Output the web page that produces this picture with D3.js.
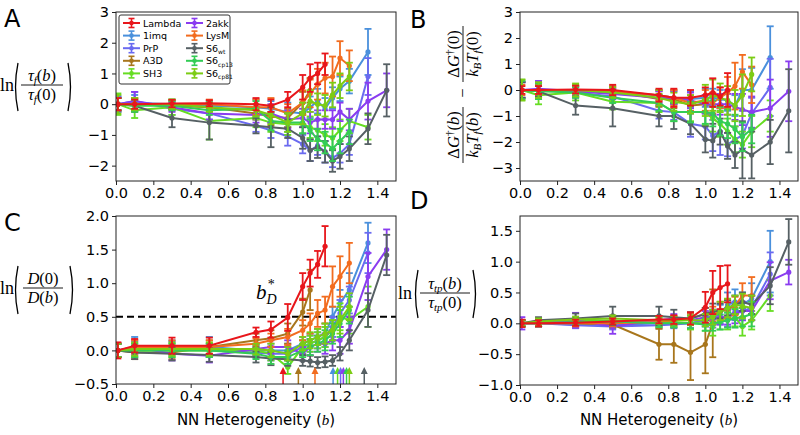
<!DOCTYPE html>
<html>
<head>
<meta charset="utf-8">
<script src="https://cdn.jsdelivr.net/npm/d3@7"></script>
<style>
  body { margin: 0; background: #fff; }
  svg { display: block; }
  text { font-family: "DejaVu Sans", sans-serif; fill: #000; }
  .math { font-family: "Liberation Serif", "DejaVu Serif", serif; }
</style>
</head>
<body>
<div id="chart"></div>
<script>
// shared heterogeneity grid, every protein uses a prefix of it
const bValues = [0.01, 0.1, 0.3, 0.5, 0.75, 0.83, 0.92, 1.0, 1.04, 1.08, 1.12, 1.16, 1.2, 1.25, 1.35, 1.45];
const xTicks = [0.0, 0.2, 0.4, 0.6, 0.8, 1.0, 1.2, 1.4];

const proteins = ['Lambda', '1imq', 'PrP', 'A3D', 'SH3', '2akk', 'LysM', 'S6wt', 'S6cp13', 'S6cp81'];
const colors = {
    Lambda: '#e8161b', '1imq': '#4a90dc', PrP: '#6a6af0', A3D: '#a8761c', SH3: '#66dd22',
    '2akk': '#8a3cf0', LysM: '#f26c1f', S6wt: '#566064', S6cp13: '#33cc55', S6cp81: '#7ccc14'
};

// Panel A: ln(tau_f(b)/tau_f(0))
const tauF = {
    Lambda: [0, 0.0, 0.02, 0.03, 0.0, -0.05, 0.15, 0.55, 0.85, 1.0, 1.3],
    '1imq': [0, 0.05, 0.0, -0.05, -0.1, -0.15, -0.25, -0.3, -0.1, 0.1, -0.15, 0.2, 0.5, 0.75, 1.7],
    PrP: [0, 0.1, -0.15, -0.3, -0.7, -0.85, -1.05, -1.3, -1.5, -1.35, -1.55, -1.75, -1.6, -1.3, 0.9],
    A3D: [0, 0.0, -0.05, -0.1, -0.3, -0.4, -0.45, 0.05, 0.45],
    SH3: [0, -0.2, -0.1, -0.55, -0.45, -0.6, -0.65, -0.65, -0.75, -0.85, -1.0, -1.1, -0.85, -0.55, -0.75],
    '2akk': [0, 0.1, -0.1, -0.3, -0.35, -0.3, -0.5, -0.45, -0.6, -0.5, -0.5, -0.5, -0.25, -0.5, 0.1, 0.45],
    LysM: [0, 0.0, 0.0, 0.0, -0.1, -0.1, -0.3, 0.05, 0.35, 0.65, 0.85, 0.9, 1.5, 1.25],
    S6wt: [0, -0.05, -0.45, -0.6, -0.7, -0.75, -0.8, -1.1, -1.5, -1.4, -1.55, -1.85, -1.7, -1.45, -0.8, 0.45],
    S6cp13: [0, -0.05, -0.05, -0.2, -0.15, -0.55, -0.6, -0.6, -0.85, -1.15, -1.25, -1.45, -1.2, -0.9],
    S6cp81: [0, 0.0, 0.0, -0.1, -0.2, -0.35, -0.6, -0.3, 0.1, 0.0, -0.05, 0.3, 0.6, 0.9]
};
const tauFErr = {
    Lambda: [0.2, 0.15, 0.12, 0.1, 0.2, 0.2, 0.25, 0.4, 0.45, 0.35, 0.35],
    '1imq': [0.25, 0.25, 0.15, 0.15, 0.25, 0.25, 0.3, 0.35, 0.35, 0.4, 0.35, 0.35, 0.4, 0.4, 0.75],
    PrP: [0.25, 0.3, 0.2, 0.2, 0.2, 0.25, 0.3, 0.3, 0.35, 0.3, 0.35, 0.3, 0.3, 0.35, 0.6],
    A3D: [0.2, 0.2, 0.15, 0.15, 0.2, 0.3, 0.3, 0.35, 0.4],
    SH3: [0.35, 0.25, 0.25, 0.6, 0.3, 0.3, 0.35, 0.3, 0.35, 0.35, 0.35, 0.35, 0.35, 0.4, 0.4],
    '2akk': [0.2, 0.3, 0.15, 0.2, 0.25, 0.3, 0.3, 0.3, 0.35, 0.3, 0.3, 0.3, 0.3, 0.35, 0.6, 0.55],
    LysM: [0.2, 0.2, 0.15, 0.15, 0.25, 0.3, 0.3, 0.4, 0.45, 0.5, 0.5, 0.65, 0.55, 0.5],
    S6wt: [0.2, 0.2, 0.3, 0.55, 0.25, 0.65, 0.3, 0.35, 0.35, 0.35, 0.35, 0.35, 0.4, 0.4, 0.5, 0.85],
    S6cp13: [0.2, 0.2, 0.15, 0.15, 0.25, 0.3, 0.3, 0.35, 0.35, 0.35, 0.35, 0.4, 0.4, 0.4],
    S6cp81: [0.3, 0.2, 0.15, 0.15, 0.2, 0.3, 0.3, 0.35, 0.35, 0.35, 0.35, 0.4, 0.4, 0.45]
};

// Panel B: barrier difference
const dG = {
    Lambda: [0, 0.0, 0.02, 0.0, -0.2, -0.3, -0.3, -0.2, -0.1, -0.25, 0.0],
    '1imq': [0, 0.0, -0.05, -0.1, -0.2, -0.3, -0.35, -0.3, -0.3, -0.35, -0.4, -0.6, 0.0, 0.0, 1.25],
    PrP: [0, 0.0, -0.1, -0.25, -0.8, -0.85, -1.3, -1.4, -1.75, -1.6, -2.1, -1.9, -1.75, -0.9, 0.1],
    A3D: [0, 0.0, -0.05, -0.05, -0.35, -0.35, -0.6, -0.55, -0.6],
    SH3: [0, -0.2, -0.1, -0.45, -0.5, -0.85, -0.85, -0.85, -1.1, -1.3, -1.6, -1.9, -2.1, -1.6, -1.0],
    '2akk': [0, 0.05, -0.05, -0.15, -0.3, -0.3, -0.4, -0.55, -0.55, -0.55, -0.55, -0.65, -0.75, -0.85, -0.7, -0.05],
    LysM: [0, 0.0, 0.0, -0.05, -0.2, -0.3, -0.5, -0.4, -0.5, -0.3, -0.1, 0.15, 0.7, 0.2],
    S6wt: [0, -0.05, -0.6, -0.7, -1.0, -1.0, -1.3, -1.9, -1.95, -1.6, -2.15, -2.5, -2.3, -2.5, -2.0, -0.8],
    S6cp13: [0, -0.05, -0.1, -0.3, -0.5, -0.85, -0.85, -0.85, -0.9, -1.2, -1.3, -1.5, -1.8, -1.5],
    S6cp81: [0, 0.0, 0.0, -0.1, -0.3, -0.45, -0.55, -0.4, -0.2, -0.3, -0.4, -0.6, -0.2, 0.6]
};
const dGErr = {
    Lambda: [0.15, 0.15, 0.15, 0.2, 0.25, 0.35, 0.3, 0.3, 0.55, 0.35, 0.65],
    '1imq': [0.3, 0.3, 0.15, 0.15, 0.2, 0.25, 0.3, 0.35, 0.35, 0.35, 0.4, 0.4, 0.8, 0.85, 1.2],
    PrP: [0.3, 0.35, 0.2, 0.2, 0.3, 0.3, 0.5, 0.5, 0.6, 0.9, 0.45, 0.5, 0.5, 0.6, 1.1],
    A3D: [0.3, 0.3, 0.2, 0.2, 0.3, 0.35, 0.3, 0.35, 0.4],
    SH3: [0.4, 0.35, 0.3, 0.3, 0.35, 0.35, 0.35, 0.5, 0.5, 0.5, 0.5, 0.5, 0.5, 0.6, 0.6],
    '2akk': [0.3, 0.3, 0.2, 0.2, 0.25, 0.25, 0.3, 0.35, 0.4, 0.4, 0.4, 0.5, 0.6, 0.6, 1.1, 1.15],
    LysM: [0.2, 0.2, 0.15, 0.15, 0.2, 0.3, 0.3, 0.4, 0.4, 0.4, 0.6, 0.9, 0.65, 0.7],
    S6wt: [0.3, 0.2, 0.35, 0.7, 0.4, 0.5, 0.4, 0.5, 0.65, 0.5, 0.5, 0.5, 1.1, 0.9, 0.85, 1.6],
    S6cp13: [0.35, 0.3, 0.2, 0.2, 0.3, 0.35, 0.4, 0.45, 0.5, 0.55, 0.55, 0.55, 0.55, 0.55],
    S6cp81: [0.4, 0.3, 0.25, 0.2, 0.3, 0.35, 0.35, 0.6, 0.6, 0.55, 0.55, 0.6, 0.8, 0.65]
};

// Panel C: ln(D(0)/D(b))
const diffus = {
    Lambda: [0, 0.07, 0.07, 0.07, 0.27, 0.31, 0.49, 0.95, 1.15, 1.28, 1.55],
    '1imq': [0, 0.05, 0.05, 0.05, 0.0, 0.0, 0.0, 0.1, 0.15, 0.2, 0.25, 0.5, 0.7, 0.9, 1.6],
    PrP: [0, 0.03, 0.03, 0.0, -0.03, -0.05, -0.05, 0.05, 0.1, 0.15, 0.2, 0.35, 0.55, 0.75, 1.45],
    A3D: [0, -0.03, -0.03, 0.05, 0.15, 0.18, 0.25, 0.57, 0.9],
    SH3: [0, 0.0, 0.0, 0.0, 0.0, -0.05, -0.25, 0.05, 0.1, 0.15, 0.2, 0.3, 0.5, 0.45, 0.65],
    '2akk': [0, 0.05, -0.05, -0.08, 0.02, 0.05, 0.05, -0.05, 0.05, 0.1, 0.1, 0.15, 0.15, 0.3, 1.1, 1.5],
    LysM: [0, 0.05, 0.05, 0.05, 0.1, 0.15, 0.2, 0.3, 0.4, 0.55, 0.6, 0.95, 1.1, 1.3],
    S6wt: [0, -0.03, -0.05, -0.07, -0.1, -0.12, -0.13, -0.15, -0.16, -0.18, -0.17, -0.15, -0.05, 0.15, 0.6, 1.42],
    S6cp13: [0, 0.0, 0.0, 0.0, -0.05, -0.1, -0.1, 0.0, 0.05, 0.1, 0.15, 0.25, 0.4, 0.6],
    S6cp81: [0, 0.02, 0.02, 0.02, 0.02, 0.0, -0.05, 0.1, 0.15, 0.2, 0.25, 0.3, 0.45, 0.65]
};
const diffusErr = {
    Lambda: [0.12, 0.1, 0.12, 0.12, 0.07, 0.12, 0.2, 0.2, 0.2, 0.2, 0.3],
    '1imq': [0.1, 0.15, 0.1, 0.15, 0.08, 0.1, 0.1, 0.1, 0.1, 0.12, 0.15, 0.15, 0.2, 0.25, 0.3],
    PrP: [0.1, 0.1, 0.1, 0.1, 0.08, 0.1, 0.1, 0.1, 0.12, 0.12, 0.15, 0.15, 0.2, 0.2, 0.3],
    A3D: [0.1, 0.1, 0.1, 0.1, 0.1, 0.12, 0.15, 0.2, 0.3],
    SH3: [0.1, 0.1, 0.1, 0.1, 0.08, 0.1, 0.1, 0.1, 0.12, 0.12, 0.15, 0.15, 0.2, 0.2, 0.3],
    '2akk': [0.1, 0.1, 0.1, 0.1, 0.08, 0.1, 0.1, 0.1, 0.12, 0.12, 0.15, 0.15, 0.2, 0.2, 0.35, 0.3],
    LysM: [0.1, 0.1, 0.1, 0.1, 0.08, 0.1, 0.12, 0.15, 0.15, 0.2, 0.2, 0.3, 0.3, 0.3],
    S6wt: [0.1, 0.1, 0.1, 0.1, 0.08, 0.1, 0.1, 0.08, 0.08, 0.08, 0.08, 0.08, 0.1, 0.15, 0.25, 0.3],
    S6cp13: [0.1, 0.1, 0.1, 0.1, 0.08, 0.1, 0.1, 0.1, 0.12, 0.12, 0.15, 0.15, 0.2, 0.2],
    S6cp81: [0.1, 0.1, 0.1, 0.1, 0.08, 0.1, 0.1, 0.1, 0.12, 0.12, 0.15, 0.15, 0.2, 0.2]
};
// b_D* markers (crossing of the 0.5 line)
const bDstar = [
    ['Lambda', 0.895], ['A3D', 0.977], ['LysM', 1.066], ['1imq', 1.163], ['SH3', 1.187],
    ['PrP', 1.203], ['2akk', 1.218], ['S6cp13', 1.235], ['S6cp81', 1.25], ['S6wt', 1.33]
];

// Panel D: ln(tau_tp(b)/tau_tp(0))
const tauTP = {
    Lambda: [0, 0.0, 0.01, 0.03, 0.06, 0.06, 0.08, 0.26, 0.5, 0.58, 0.64],
    '1imq': [0, 0.0, -0.02, -0.03, 0.0, 0.0, 0.0, 0.05, 0.1, 0.15, 0.3, 0.35, 0.3, 0.4, 1.0],
    PrP: [0, 0.0, -0.03, -0.05, -0.03, -0.02, 0.0, 0.05, 0.05, 0.1, 0.1, 0.2, 0.2, 0.25, 0.8],
    A3D: [0, 0.0, 0.0, -0.02, -0.34, -0.34, -0.47, -0.34, 0.0],
    SH3: [0, 0.02, 0.04, 0.04, 0.02, 0.02, 0.0, 0.0, -0.05, 0.05, 0.05, 0.1, -0.05, 0.05, 0.45],
    '2akk': [0, 0.0, 0.05, -0.05, 0.05, 0.08, 0.05, 0.1, 0.1, 0.1, 0.1, 0.15, 0.2, 0.2, 0.69, 0.83],
    LysM: [0, 0.0, 0.0, 0.0, 0.02, 0.05, 0.08, 0.15, 0.15, 0.2, 0.23, 0.28, 0.45, 0.45],
    S6wt: [0, 0.05, 0.08, 0.12, 0.12, 0.1, 0.08, 0.15, 0.2, 0.2, 0.25, 0.3, 0.35, 0.3, 0.61, 1.32],
    S6cp13: [0, 0.0, 0.02, 0.03, 0.0, 0.0, 0.0, -0.02, 0.0, 0.02, 0.05, 0.08, 0.1, 0.15],
    S6cp81: [0, 0.03, 0.06, 0.08, 0.05, 0.05, 0.05, 0.05, 0.1, 0.2, 0.25, 0.3, 0.28, 0.25]
};
const tauTPErr = {
    Lambda: [0.06, 0.05, 0.05, 0.05, 0.06, 0.07, 0.1, 0.25, 0.35, 0.35, 0.3],
    '1imq': [0.05, 0.05, 0.05, 0.05, 0.05, 0.06, 0.08, 0.1, 0.12, 0.15, 0.2, 0.2, 0.2, 0.25, 0.5],
    PrP: [0.05, 0.05, 0.05, 0.05, 0.05, 0.06, 0.08, 0.1, 0.12, 0.12, 0.15, 0.15, 0.15, 0.2, 0.35],
    A3D: [0.05, 0.05, 0.05, 0.05, 0.25, 0.3, 0.45, 0.47, 0.55],
    SH3: [0.05, 0.05, 0.05, 0.05, 0.08, 0.08, 0.1, 0.12, 0.15, 0.15, 0.15, 0.15, 0.15, 0.15, 0.25],
    '2akk': [0.1, 0.05, 0.12, 0.12, 0.07, 0.07, 0.08, 0.1, 0.12, 0.12, 0.12, 0.15, 0.15, 0.15, 0.3, 0.2],
    LysM: [0.05, 0.05, 0.05, 0.05, 0.05, 0.06, 0.08, 0.1, 0.12, 0.15, 0.15, 0.15, 0.2, 0.3],
    S6wt: [0.05, 0.05, 0.08, 0.15, 0.15, 0.12, 0.1, 0.1, 0.12, 0.12, 0.12, 0.15, 0.15, 0.15, 0.3, 0.37],
    S6cp13: [0.05, 0.05, 0.05, 0.05, 0.06, 0.07, 0.08, 0.1, 0.12, 0.12, 0.12, 0.15, 0.15, 0.2],
    S6cp81: [0.05, 0.05, 0.05, 0.05, 0.06, 0.07, 0.08, 0.1, 0.12, 0.15, 0.15, 0.15, 0.2, 0.2]
};

// red drawn last so it sits on top
const drawOrder = ['1imq', 'PrP', 'A3D', 'SH3', '2akk', 'LysM', 'S6wt', 'S6cp13', 'S6cp81', 'Lambda'];

const svg = d3.select('#chart').append('svg')
    .attr('width', 800)
    .attr('height', 435);

function drawPanel(cfg) {
    const x = d3.scaleLinear().domain([0, 1.5]).range([cfg.left, cfg.right]);
    const y = d3.scaleLinear().domain(cfg.yDomain).range([cfg.bottom, cfg.top]);
    const g = svg.append('g');

    g.append('clipPath').attr('id', 'clip-' + cfg.id)
        .append('rect')
        .attr('x', cfg.left).attr('y', cfg.top)
        .attr('width', cfg.right - cfg.left).attr('height', cfg.bottom - cfg.top);

    const xAxis = g.append('g')
        .attr('transform', `translate(0,${cfg.bottom})`)
        .call(d3.axisBottom(x).tickValues(xTicks).tickFormat(d3.format('.1f')).tickSize(4).tickSizeOuter(0));
    const yAxis = g.append('g')
        .attr('transform', `translate(${cfg.left},0)`)
        .call(d3.axisLeft(y).tickValues(cfg.yTicks).tickFormat(d3.format(cfg.yFormat)).tickSize(4).tickSizeOuter(0));
    [xAxis, yAxis].forEach(ax => {
        ax.select('.domain').remove();
        ax.selectAll('line').attr('stroke', '#222');
        ax.selectAll('text').style('font-size', '14.5px').style('font-family', '"DejaVu Sans", sans-serif');
    });

    const plot = g.append('g').attr('clip-path', `url(#clip-${cfg.id})`);

    if (cfg.refLine !== undefined) {
        plot.append('line')
            .attr('x1', cfg.left).attr('x2', cfg.right)
            .attr('y1', y(cfg.refLine)).attr('y2', y(cfg.refLine))
            .attr('stroke', '#000')
            .attr('stroke-width', 2)
            .attr('stroke-dasharray', '7,4');
    }

    drawOrder.forEach(p => {
        const pts = cfg.values[p].map((v, i) => ({ b: bValues[i], v: v, e: cfg.errors[p][i] }));
        const c = colors[p];
        const sg = plot.append('g');

        sg.append('path')
            .datum(pts)
            .attr('fill', 'none')
            .attr('stroke', c)
            .attr('stroke-width', 2)
            .attr('d', d3.line().x(d => x(d.b)).y(d => y(d.v)));

        sg.selectAll('.eb')
            .data(pts)
            .enter()
            .append('line')
            .attr('class', 'eb')
            .attr('x1', d => x(d.b)).attr('x2', d => x(d.b))
            .attr('y1', d => y(d.v - d.e)).attr('y2', d => y(d.v + d.e))
            .attr('stroke', c)
            .attr('stroke-width', 1.8);

        // caps at both ends
        ['lo', 'hi'].forEach(end => {
            sg.selectAll('.cap-' + end)
                .data(pts)
                .enter()
                .append('line')
                .attr('class', 'cap-' + end)
                .attr('x1', d => x(d.b) - 3.5).attr('x2', d => x(d.b) + 3.5)
                .attr('y1', d => y(end === 'lo' ? d.v - d.e : d.v + d.e))
                .attr('y2', d => y(end === 'lo' ? d.v - d.e : d.v + d.e))
                .attr('stroke', c)
                .attr('stroke-width', 1.8);
        });

        sg.selectAll('.pt')
            .data(pts)
            .enter()
            .append('circle')
            .attr('class', 'pt')
            .attr('cx', d => x(d.b))
            .attr('cy', d => y(d.v))
            .attr('r', 2.6)
            .attr('fill', c);
    });

    if (cfg.arrows) {
        cfg.arrows.forEach(([p, b]) => {
            const ax = x(b);
            g.append('line')
                .attr('x1', ax).attr('x2', ax)
                .attr('y1', cfg.bottom).attr('y2', cfg.bottom - 12)
                .attr('stroke', colors[p])
                .attr('stroke-width', 1.5);
            g.append('path')
                .attr('d', `M${ax - 3.5},${cfg.bottom - 10} L${ax},${cfg.bottom - 17} L${ax + 3.5},${cfg.bottom - 10} Z`)
                .attr('fill', colors[p]);
        });
    }

    g.append('rect')
        .attr('x', cfg.left).attr('y', cfg.top)
        .attr('width', cfg.right - cfg.left).attr('height', cfg.bottom - cfg.top)
        .attr('fill', 'none')
        .attr('stroke', '#222')
        .attr('stroke-width', 1);

    return { x, y, g };
}

drawPanel({ id: 'A', left: 116, right: 396, top: 12, bottom: 181, yDomain: [-2.5, 3],
    yTicks: [-2, -1, 0, 1, 2, 3], yFormat: 'd', values: tauF, errors: tauFErr });
drawPanel({ id: 'B', left: 520, right: 798, top: 12, bottom: 181, yDomain: [-3.5, 3],
    yTicks: [-3, -2, -1, 0, 1, 2, 3], yFormat: 'd', values: dG, errors: dGErr });
drawPanel({ id: 'C', left: 116, right: 396, top: 216, bottom: 384, yDomain: [-0.5, 2.0],
    yTicks: [-0.5, 0, 0.5, 1.0, 1.5, 2.0], yFormat: '.1f', values: diffus, errors: diffusErr,
    refLine: 0.5, arrows: bDstar });
drawPanel({ id: 'D', left: 520, right: 798, top: 216, bottom: 385, yDomain: [-1.0, 1.74],
    yTicks: [-1.0, -0.5, 0, 0.5, 1.0, 1.5], yFormat: '.1f', values: tauTP, errors: tauTPErr });

// legend in panel A
const legend = svg.append('g');
legend.append('rect')
    .attr('x', 119).attr('y', 15).attr('width', 111).attr('height', 69)
    .attr('rx', 2)
    .attr('fill', '#fff')
    .attr('stroke', '#333')
    .attr('stroke-width', 1);
const legendNames = {
    Lambda: ['Lambda'], '1imq': ['1imq'], PrP: ['PrP'], A3D: ['A3D'], SH3: ['SH3'],
    '2akk': ['2akk'], LysM: ['LysM'], S6wt: ['S6', 'wt'], S6cp13: ['S6', 'cp13'], S6cp81: ['S6', 'cp81']
};
proteins.forEach((p, i) => {
    const col = Math.floor(i / 5);
    const row = i % 5;
    const hx = col === 0 ? 123 : 186;
    const hy = 23 + row * 12.6;
    const c = colors[p];
    const item = legend.append('g');
    item.append('line').attr('x1', hx).attr('x2', hx + 17).attr('y1', hy).attr('y2', hy)
        .attr('stroke', c).attr('stroke-width', 2);
    item.append('line').attr('x1', hx + 8.5).attr('x2', hx + 8.5).attr('y1', hy - 4.5).attr('y2', hy + 4.5)
        .attr('stroke', c).attr('stroke-width', 1.6);
    [-4.5, 4.5].forEach(dy => {
        item.append('line').attr('x1', hx + 5.5).attr('x2', hx + 11.5).attr('y1', hy + dy).attr('y2', hy + dy)
            .attr('stroke', c).attr('stroke-width', 1.6);
    });
    item.append('circle').attr('cx', hx + 8.5).attr('cy', hy).attr('r', 2.3).attr('fill', c);
    const t = item.append('text')
        .attr('x', hx + 20).attr('y', hy + 3.5)
        .style('font-size', '9.5px')
        .text(legendNames[p][0]);
    if (legendNames[p][1]) {
        t.append('tspan').attr('dy', 2.5).style('font-size', '6px').text(legendNames[p][1]);
    }
});

// panel letters
[['A', 4, 27], ['B', 410, 28], ['C', 4, 231], ['D', 410, 209]].forEach(([l, lx, ly]) => {
    svg.append('text').attr('x', lx).attr('y', ly).style('font-size', '24px').text(l);
});

// math helpers
function paren(x0, yTop, yBot, open) {
    const bend = open ? -5 : 5;
    const mid = (yTop + yBot) / 2;
    svg.append('path')
        .attr('d', `M${x0},${yTop} Q${x0 + bend},${mid} ${x0},${yBot}`)
        .attr('fill', 'none')
        .attr('stroke', '#000')
        .attr('stroke-width', 1.3);
}
function mathText(parent, x, y, parts, anchor, size) {
    const t = parent.append('text')
        .attr('class', 'math')
        .attr('x', x).attr('y', y)
        .attr('text-anchor', anchor || 'middle')
        .style('font-size', (size || 16.5) + 'px');
    let shift = 0;
    parts.forEach(([s, kind]) => {
        const span = t.append('tspan').text(s);
        let target = 0;
        if (kind === 'sub') { target = 3; span.style('font-size', '11px').style('font-style', 'italic'); }
        else if (kind === 'sup') { target = -6; span.style('font-size', '11px'); }
        else if (kind === 'i') { span.style('font-style', 'italic'); }
        if (target !== shift) { span.attr('dy', target - shift); shift = target; }
    });
    return t;
}
function fraction(parent, cx, cy, num, den, halfWidth) {
    mathText(parent, cx, cy - 4, num);
    mathText(parent, cx, cy + 15, den);
    parent.append('line')
        .attr('x1', cx - halfWidth).attr('x2', cx + halfWidth)
        .attr('y1', cy).attr('y2', cy)
        .attr('stroke', '#000').attr('stroke-width', 0.9);
}

// y label A
mathText(svg, 0, 91, [['ln', 'n']], 'start', 18);
paren(18, 63, 111, true);
fraction(svg, 42, 85, [['τ', 'i'], ['f', 'sub'], ['(', 'n'], ['b', 'i'], [')', 'n']],
    [['τ', 'i'], ['f', 'sub'], ['(0)', 'n']], 21);
paren(68, 63, 111, false);

// y label C
mathText(svg, 0, 294, [['ln', 'n']], 'start', 18);
paren(18, 266, 314, true);
fraction(svg, 43, 288, [['D', 'i'], ['(0)', 'n']], [['D', 'i'], ['(', 'n'], ['b', 'i'], [')', 'n']], 20);
paren(70, 266, 314, false);

// y label D
mathText(svg, 398, 299, [['ln', 'n']], 'start', 18);
paren(418, 270, 318, true);
fraction(svg, 445, 293, [['τ', 'i'], ['tp', 'sub'], ['(', 'n'], ['b', 'i'], [')', 'n']],
    [['τ', 'i'], ['tp', 'sub'], ['(0)', 'n']], 25);
paren(473, 270, 318, false);

// y label B (rotated)
const lb = svg.append('g').attr('transform', 'translate(463,90) rotate(-90)');
fraction(lb, -45, 0, [['Δ', 'n'], ['G', 'i'], ['†', 'sup'], ['(', 'n'], ['b', 'i'], [')', 'n']],
    [['k', 'i'], ['B', 'sub'], ['T', 'i'], ['f', 'sub'], ['(', 'n'], ['b', 'i'], [')', 'n']], 28);
mathText(lb, -3, 5, [['−', 'n']]);
fraction(lb, 36, 0, [['Δ', 'n'], ['G', 'i'], ['†', 'sup'], ['(0)', 'n']],
    [['k', 'i'], ['B', 'sub'], ['T', 'i'], ['f', 'sub'], ['(0)', 'n']], 28);

// b_D* annotation
const bd = svg.append('text').attr('class', 'math').attr('x', 256).attr('y', 299).style('font-size', '21px');
bd.append('tspan').style('font-style', 'italic').text('b');
bd.append('tspan').attr('dy', 5).style('font-size', '14px').style('font-style', 'italic').text('D');
bd.append('tspan').attr('dx', -9).attr('dy', -15).style('font-size', '14px').text('*');

// x labels
[256, 659].forEach(cx => {
    const t = svg.append('text').attr('x', cx).attr('y', 425).attr('text-anchor', 'middle').style('font-size', '15px');
    t.append('tspan').text('NN Heterogeneity (');
    t.append('tspan').attr('class', 'math').style('font-style', 'italic').style('font-family', '"Liberation Serif", serif').text('b');
    t.append('tspan').text(')');
});
</script>
</body>
</html>
